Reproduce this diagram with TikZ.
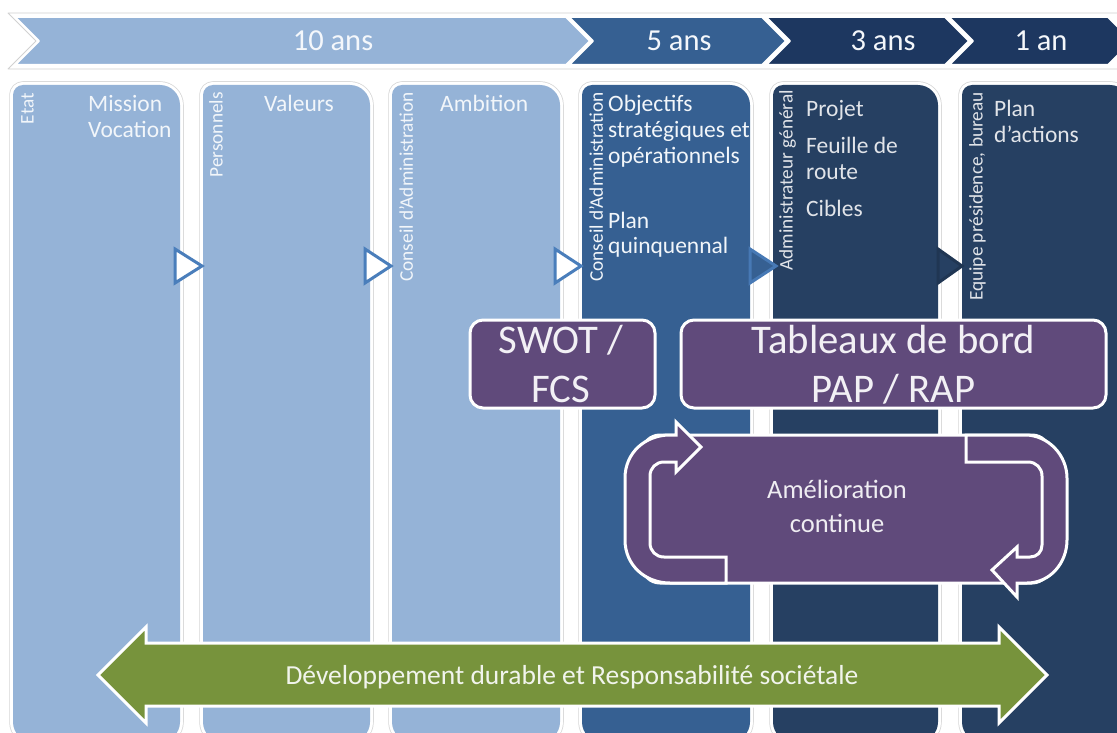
\documentclass[tikz,border=0pt]{standalone}
\usepackage{fontspec}
\setmainfont{Carlito}
\definecolor{lb}{HTML}{95B3D7}
\definecolor{mb}{HTML}{366092}
\definecolor{nb}{HTML}{264062}
\definecolor{hnb}{HTML}{1D3760}
\definecolor{pu}{HTML}{604A7B}
\definecolor{gr}{HTML}{77933C}
\definecolor{tri}{HTML}{4A7EBB}
\newcommand\mycolpath[2]{(#1,722) -- (#1,95) .. controls (#1,89.5) and (#1+4.5,85) .. (#1+10,85) -- (#2-20,85) .. controls (#2-9,85) and (#2,94) .. (#2,105) -- (#2,722) .. controls (#2,733) and (#2-9,742) .. (#2-20,742) -- (#1+20,742) .. controls (#1+9,742) and (#1,733) .. (#1,722) -- cycle}
\newcommand\mycolumn[3]{%
  \path[draw=black!16, line width=7.5] \mycolpath{#1}{#2};
  \path[draw=white, line width=6] \mycolpath{#1}{#2};
  \path[fill=#3] \mycolpath{#1}{#2};}
\tikzset{
  hdr/.style={font=\fontsize{30.5}{34}\selectfont, text=white!90!lb, inner sep=0, anchor=base},
  chev/.style={draw=white, line width=2},
  vtxt/.style={font=\fontsize{19.3}{21}\selectfont, inner sep=0, rotate=90, anchor=north east},
  coltxt/.style={font=\fontsize{23.5}{26}\selectfont, inner sep=0, anchor=base west},
  ontxtl/.style={text=white!88!lb},
  ontxtd/.style={text=white!86!nb},
  tria/.style={line width=3, line join=miter},
  pbox/.style={fill=pu, draw=white, line width=3, rounded corners=13, inner sep=0},
  ptxt/.style={font=\fontsize{40.7}{47}\selectfont, text=white!92!pu, inner sep=0, anchor=base},
  cyc/.style={fill=pu, draw=white, line width=3, line join=miter},
  ctxt/.style={font=\fontsize{26.5}{32}\selectfont, text=white!90!pu, inner sep=0, anchor=base},
  garrow/.style={fill=gr, draw=white, line width=3, line join=miter},
  gtxt/.style={font=\fontsize{27.5}{30}\selectfont, text=white!90!gr, inner sep=0, anchor=base},
}
\begin{document}
\begin{tikzpicture}[x=1pt, y=-1pt, line join=round]
\useasboundingbox (0,0) rectangle (1117,733);
\fill[white] (0,0) rectangle (1117,733);

% header band
\draw[black!18, fill=white, line width=0.8] (8,13) -- (1130,13) -- (1130,69) -- (8,69) -- (36,41) -- cycle;
\path[chev, fill=lb]  (15,17) -- (566,17) -- (590,41) -- (566,65) -- (15,65) -- (39,41) -- cycle;
\path[chev, fill=mb]  (569,17) -- (762,17) -- (786,41) -- (762,65) -- (569,65) -- (593,41) -- cycle;
\path[chev, fill=hnb] (766,17) -- (945,17) -- (969,41) -- (945,65) -- (766,65) -- (790,41) -- cycle;
\path[chev, fill=hnb] (949,17) -- (1108,17) -- (1132,41) -- (1108,65) -- (949,65) -- (973,41) -- cycle;
\node[hdr] (h1) at (333,51) {10 ans};
\node[hdr] (h2) at (679,51) {5 ans};
\node[hdr] (h3) at (883,51) {3 ans};
\node[hdr] (h4) at (1041,51) {1 an};

% columns
\mycolumn{13}{180}{lb}
\mycolumn{203}{370}{lb}
\mycolumn{392}{560}{lb}
\mycolumn{582}{750}{mb}
\mycolumn{773}{938}{nb}
\mycolumn{962}{1130}{nb}

% triangles
\path[tria, fill=white, draw=tri] (175,249) -- (202,266) -- (175,283) -- cycle;
\path[tria, fill=white, draw=tri] (365,249) -- (391,266) -- (365,283) -- cycle;
\path[tria, fill=white, draw=tri] (555,249) -- (581,266) -- (555,283) -- cycle;
\path[tria, fill=mb, draw=tri!85!mb] (750,249) -- (776,266) -- (750,283) -- cycle;
\path[tria, fill=nb, draw=nb!85!black] (938,249) -- (962,266) -- (938,283) -- cycle;

% vertical labels
\node[vtxt, ontxtl] (v1) at (21,93) {Etat};
\node[vtxt, ontxtl] (v2) at (209,92) {Personnels};
\node[vtxt, ontxtl] (v3) at (399,92) {Conseil d’Administration};
\node[vtxt, ontxtl] (v4) at (589,92) {Conseil d’Administration};
\node[vtxt, ontxtd] (v5) at (779,90) {Administrateur général};
\node[vtxt, ontxtd] (v6) at (969,92) {Equipe présidence, bureau};

% column texts
\node[coltxt, ontxtl] (m1a) at (88,111.5) {Mission};
\node[coltxt, ontxtl] (m1b) at (88,137.5) {Vocation};
\node[coltxt, ontxtl] (m2) at (264,111.5) {Valeurs};
\node[coltxt, ontxtl] (m3) at (440,111.5) {Ambition};
\node[coltxt, ontxtl] (m4a) at (608,111.5) {Objectifs};
\node[coltxt, ontxtl] (m4b) at (608,137.5) {stratégiques et};
\node[coltxt, ontxtl] (m4c) at (608,163.5) {opérationnels};
\node[coltxt, ontxtl] (m4d) at (608,228) {Plan};
\node[coltxt, ontxtl] (m4e) at (608,253.5) {quinquennal};
\node[coltxt, ontxtd] (m5a) at (806,116.5) {Projet};
\node[coltxt, ontxtd] (m5b) at (806,154) {Feuille de};
\node[coltxt, ontxtd] (m5c) at (806,180) {route};
\node[coltxt, ontxtd] (m5d) at (806,216.5) {Cibles};
\node[coltxt, ontxtd] (m6a) at (994,116.5) {Plan};
\node[coltxt, ontxtd] (m6b) at (994,142.5) {d’actions};

% purple boxes
\node[pbox, minimum width=185, minimum height=88] (swot) at (562.5,364) {};
\node[ptxt] (sw1) at (561,353) {SWOT /};
\node[ptxt] (sw2) at (561,402) {FCS};
\node[pbox, minimum width=425, minimum height=88] (tab) at (893.5,364) {};
\node[ptxt] (tb1) at (893.5,353) {Tableaux de bord};
\node[ptxt] (tb2) at (893.5,402) {PAP / RAP};

% continuous improvement cycle
\path[cyc, rounded corners=18] (642,435) rectangle (1050,583);
\path[cyc] (726,583) -- (670,583) .. controls (645,583) and (625,565) .. (625,540) -- (625,478) .. controls (625,453) and (645,435) .. (670,435) -- (676,435) -- (676,422) -- (701,447) -- (676,472) -- (676,462) -- (664,462) .. controls (656,462) and (650,468) .. (650,476) -- (650,543) .. controls (650,551) and (656,557) .. (664,557) -- (726,557) -- cycle;
\path[cyc] (966,435) -- (1025,435) .. controls (1048,435) and (1067,455) .. (1067,478) -- (1067,540) .. controls (1067,563) and (1050,583) .. (1027,583) -- (1017,583) -- (1017,597) -- (992,570) -- (1017,547) -- (1017,557) -- (1030,557) .. controls (1037,557) and (1042,552) .. (1042,545) -- (1042,476) .. controls (1042,468) and (1036,462) .. (1028,462) -- (966,462) -- cycle;
\node[ctxt] (am1) at (837,498) {Amélioration};
\node[ctxt] (am2) at (837,532) {continue};

% sustainable development arrow
\path[garrow] (98,675) -- (146,627) -- (146,643) -- (999,643) -- (999,627) -- (1047,675) -- (999,723) -- (999,706) -- (146,706) -- (146,723) -- cycle;
\node[gtxt] (dd) at (572,684) {Développement durable et Responsabilité sociétale};
\end{tikzpicture}
\end{document}
